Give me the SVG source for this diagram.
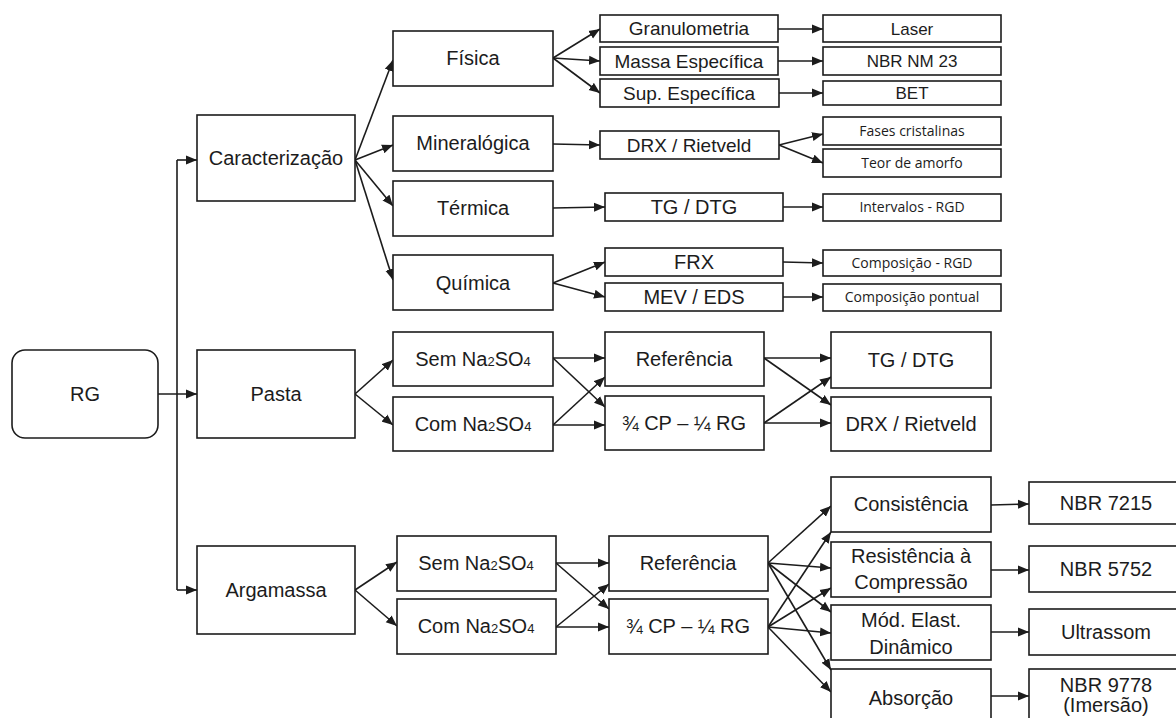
<svg xmlns="http://www.w3.org/2000/svg" width="1176" height="718" viewBox="0 0 1176 718">
<style>
.b{fill:#fff;stroke:#1c1c1c;stroke-width:1.6}
text{font-family:"Liberation Sans",Arial,sans-serif;font-size:20px;fill:#1c1c1c;text-anchor:middle}
.m{font-size:19px}
.l{font-size:17px}
.s{font-family:"Open Sans",sans-serif;font-size:14px}
.sub{font-size:13px}
#connectors line{stroke:#1c1c1c;stroke-width:1.6;fill:none;marker-end:url(#ah)}
#connectors path{stroke:#1c1c1c;stroke-width:1.6;fill:none}
</style>
<defs>
<marker id="ah" markerUnits="userSpaceOnUse" markerWidth="12" markerHeight="10" refX="11" refY="5" orient="auto">
<path d="M0,0.5 L11,5 L0,9.5 z" fill="#1c1c1c"/>
</marker>
</defs>
<rect width="1176" height="718" fill="#fff"/>
<g id="connectors">
<line x1="158" y1="394" x2="197" y2="394"/>
<path d="M177,160 L177,590"/>
<line x1="177" y1="160" x2="197" y2="160"/>
<line x1="177" y1="590" x2="197" y2="590"/>
<line x1="355" y1="160" x2="393" y2="60"/>
<line x1="355" y1="160" x2="393" y2="145"/>
<line x1="355" y1="160" x2="393" y2="206"/>
<line x1="355" y1="160" x2="393" y2="280"/>
<line x1="553" y1="58" x2="600" y2="29"/>
<line x1="553" y1="58" x2="600" y2="61"/>
<line x1="553" y1="58" x2="600" y2="93"/>
<line x1="778" y1="29" x2="823" y2="29"/>
<line x1="778" y1="61" x2="823" y2="61"/>
<line x1="779" y1="93" x2="823" y2="93"/>
<line x1="553" y1="144" x2="600" y2="145"/>
<line x1="779" y1="145" x2="823" y2="134"/>
<line x1="779" y1="145" x2="823" y2="163"/>
<line x1="553" y1="208" x2="605" y2="207"/>
<line x1="783" y1="207" x2="823" y2="207"/>
<line x1="553" y1="283" x2="605" y2="262"/>
<line x1="553" y1="283" x2="605" y2="297"/>
<line x1="783" y1="262" x2="823" y2="263"/>
<line x1="783" y1="297" x2="823" y2="297"/>
<line x1="355" y1="394" x2="393" y2="360"/>
<line x1="355" y1="394" x2="393" y2="425"/>
<line x1="553" y1="358" x2="605" y2="358"/>
<line x1="553" y1="358" x2="605" y2="407"/>
<line x1="553" y1="425" x2="605" y2="377"/>
<line x1="553" y1="425" x2="605" y2="425"/>
<line x1="764" y1="358" x2="831" y2="358"/>
<line x1="764" y1="358" x2="831" y2="405"/>
<line x1="764" y1="423" x2="831" y2="377"/>
<line x1="764" y1="423" x2="831" y2="423"/>
<line x1="355" y1="590" x2="397" y2="562"/>
<line x1="355" y1="590" x2="397" y2="626"/>
<line x1="556" y1="563" x2="609" y2="563"/>
<line x1="556" y1="563" x2="609" y2="609"/>
<line x1="556" y1="627" x2="609" y2="584"/>
<line x1="556" y1="627" x2="609" y2="627"/>
<line x1="768" y1="563" x2="831" y2="506"/>
<line x1="768" y1="563" x2="831" y2="568"/>
<line x1="768" y1="563" x2="831" y2="612"/>
<line x1="768" y1="563" x2="831" y2="670"/>
<line x1="768" y1="627" x2="831" y2="532"/>
<line x1="768" y1="627" x2="831" y2="588"/>
<line x1="768" y1="627" x2="831" y2="633"/>
<line x1="768" y1="627" x2="831" y2="692"/>
<line x1="991" y1="505" x2="1029" y2="504"/>
<line x1="991" y1="570" x2="1029" y2="570"/>
<line x1="991" y1="632" x2="1029" y2="632"/>
<line x1="991" y1="696" x2="1029" y2="696"/>
</g>
<g id="rg"><rect class="b" x="12" y="350" width="146" height="88" rx="13"/><text x="85" y="401">RG</text></g>
<g id="caracterizacao"><rect class="b" x="197" y="115" width="158" height="86"/><text x="276" y="165">Caracterização</text></g>
<g id="pasta"><rect class="b" x="197" y="350" width="158" height="88"/><text x="276" y="401">Pasta</text></g>
<g id="argamassa"><rect class="b" x="197" y="546" width="158" height="88"/><text x="276" y="597">Argamassa</text></g>
<g id="fisica"><rect class="b" x="393" y="31" width="160" height="55"/><text x="473" y="65">Física</text></g>
<g id="mineralogica"><rect class="b" x="393" y="116" width="160" height="55"/><text x="473" y="150">Mineralógica</text></g>
<g id="termica"><rect class="b" x="393" y="181" width="160" height="55"/><text x="473" y="215">Térmica</text></g>
<g id="quimica"><rect class="b" x="393" y="255" width="160" height="55"/><text x="473" y="290">Química</text></g>
<g id="granulometria"><rect class="b" x="600" y="15" width="178" height="27"/><text class="m" x="689" y="35">Granulometria</text></g>
<g id="massa"><rect class="b" x="600" y="47" width="178" height="28"/><text class="m" x="689" y="68">Massa Específica</text></g>
<g id="sup"><rect class="b" x="600" y="79" width="179" height="28"/><text class="m" x="689" y="100">Sup. Específica</text></g>
<g id="laser"><rect class="b" x="823" y="15" width="178" height="27"/><text class="l" x="912" y="35">Laser</text></g>
<g id="nbrnm23"><rect class="b" x="823" y="47" width="178" height="28"/><text class="l" x="912" y="67">NBR NM 23</text></g>
<g id="bet"><rect class="b" x="823" y="81" width="178" height="24"/><text class="l" x="912" y="99">BET</text></g>
<g id="drx1"><rect class="b" x="600" y="131" width="179" height="28"/><text class="m" x="689" y="152">DRX / Rietveld</text></g>
<g id="fases"><rect class="b" x="823" y="117" width="178" height="28"/><text class="s" x="912" y="136">Fases cristalinas</text></g>
<g id="teor"><rect class="b" x="823" y="149" width="178" height="28"/><text class="s" x="912" y="168">Teor de amorfo</text></g>
<g id="tgdtg1"><rect class="b" x="605" y="193" width="178" height="28"/><text x="694" y="214">TG / DTG</text></g>
<g id="intervalos"><rect class="b" x="823" y="194" width="178" height="27"/><text class="s" x="912" y="212">Intervalos - RGD</text></g>
<g id="frx"><rect class="b" x="605" y="248" width="178" height="28"/><text x="694" y="269">FRX</text></g>
<g id="mev"><rect class="b" x="605" y="283" width="178" height="28"/><text x="694" y="304">MEV / EDS</text></g>
<g id="comprgd"><rect class="b" x="823" y="250" width="178" height="26"/><text class="s" x="912" y="268">Composição - RGD</text></g>
<g id="comppont"><rect class="b" x="823" y="284" width="178" height="27"/><text class="s" x="912" y="302">Composição pontual</text></g>
<g id="pasta-sem"><rect class="b" x="393" y="332" width="160" height="54"/><text x="473" y="366">Sem Na<tspan class="sub">2</tspan>SO<tspan class="sub">4</tspan></text></g>
<g id="pasta-com"><rect class="b" x="393" y="397" width="160" height="54"/><text x="473" y="431">Com Na<tspan class="sub">2</tspan>SO<tspan class="sub">4</tspan></text></g>
<g id="pasta-ref"><rect class="b" x="605" y="332" width="159" height="54"/><text x="684" y="366">Referência</text></g>
<g id="pasta-cp"><rect class="b" x="605" y="396" width="159" height="54"/><text x="684" y="430">¾ CP – ¼ RG</text></g>
<g id="pasta-tg"><rect class="b" x="831" y="332" width="160" height="56"/><text x="911" y="367">TG / DTG</text></g>
<g id="pasta-drx"><rect class="b" x="831" y="397" width="160" height="54"/><text x="911" y="431">DRX / Rietveld</text></g>
<g id="arg-sem"><rect class="b" x="397" y="536" width="159" height="55"/><text x="476" y="570">Sem Na<tspan class="sub">2</tspan>SO<tspan class="sub">4</tspan></text></g>
<g id="arg-com"><rect class="b" x="397" y="599" width="159" height="55"/><text x="476" y="633">Com Na<tspan class="sub">2</tspan>SO<tspan class="sub">4</tspan></text></g>
<g id="arg-ref"><rect class="b" x="609" y="536" width="159" height="55"/><text x="688" y="570">Referência</text></g>
<g id="arg-cp"><rect class="b" x="609" y="599" width="159" height="55"/><text x="688" y="633">¾ CP – ¼ RG</text></g>
<g id="consistencia"><rect class="b" x="831" y="477" width="160" height="55"/><text x="911" y="511">Consistência</text></g>
<g id="resistencia"><rect class="b" x="831" y="542" width="160" height="55"/><text x="911" y="563">Resistência à</text><text x="911" y="589">Compressão</text></g>
<g id="modulo"><rect class="b" x="831" y="605" width="160" height="55"/><text x="911" y="627">Mód. Elast.</text><text x="911" y="654">Dinâmico</text></g>
<g id="absorcao"><rect class="b" x="831" y="669" width="160" height="60"/><text x="911" y="705">Absorção</text></g>
<g id="nbr7215"><rect class="b" x="1029" y="482" width="170" height="42"/><text x="1106" y="510">NBR 7215</text></g>
<g id="nbr5752"><rect class="b" x="1029" y="546" width="170" height="46"/><text x="1106" y="576">NBR 5752</text></g>
<g id="ultrassom"><rect class="b" x="1029" y="609" width="170" height="46"/><text x="1106" y="639">Ultrassom</text></g>
<g id="nbr9778"><rect class="b" x="1029" y="669" width="170" height="60"/><text x="1106" y="692">NBR 9778</text><text x="1106" y="712">(Imersão)</text></g>
</svg>
